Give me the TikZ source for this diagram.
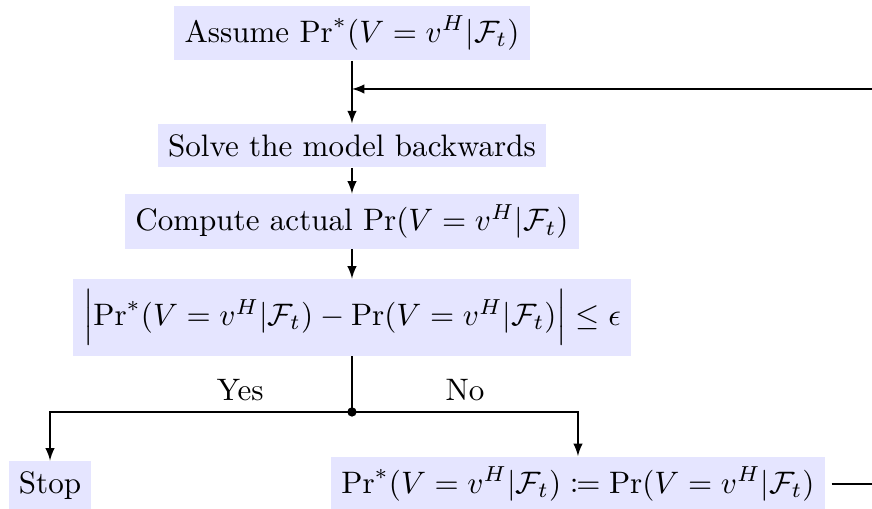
\documentclass[tikz,border=0pt]{standalone}
\usepackage{amsmath}
\usepackage{mathtools}
\usetikzlibrary{arrows.meta}

\begin{document}
\begin{tikzpicture}[
        ->, >=latex,
        stepbox/.style={fill=blue!10, align=center},
        every node/.style={font=\normalsize}
    ]
    \useasboundingbox (0,0) rectangle (9.87,-5.761);
    \node[stepbox] (assume) at (3.984,-0.374) {Assume $\Pr^*(V=v^H|\mathcal{F}_t)$};
    \node[stepbox] (solve) at (3.984,-1.647) {Solve the model backwards};
    \node[stepbox] (compute) at (3.984,-2.507) {Compute actual $\Pr(V=v^H|\mathcal{F}_t)$};
    \node[stepbox] (check) at (3.984,-3.594) {$\Bigl|\Pr^*(V=v^H|\mathcal{F}_t)-\Pr(V=v^H|\mathcal{F}_t)\Bigr|\leq\epsilon$};
    \node[stepbox] (stop) at (0.566,-5.495) {Stop};
    \node[stepbox] (update) at (6.542,-5.478) {$\Pr^*(V=v^H|\mathcal{F}_t)\coloneqq\Pr(V=v^H|\mathcal{F}_t)$};
    \coordinate (split) at (3.984,-4.663);
    \coordinate (loop) at (3.984,-1.007);

    \draw (assume) -- (solve);
    \draw (solve) -- (compute);
    \draw (compute) -- (check);
    \draw[-] (check) -- (split);
    \fill (split) circle (1.5pt);
    \draw (split) -| node[above, pos=0.185] {Yes} (stop);
    \draw (split) -| node[above, pos=0.25] {No} (update);
    \draw[shorten <=2pt] (update.east) -- ++(3.5,0) |- (loop);
\end{tikzpicture}
\end{document}
